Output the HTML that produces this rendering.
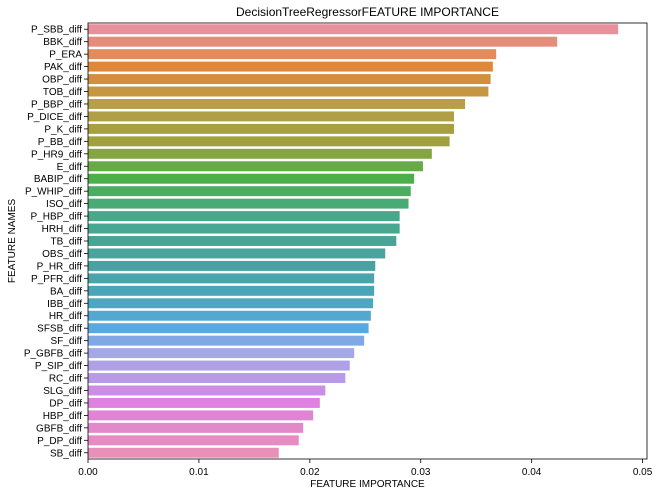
<!DOCTYPE html>
<html><head><meta charset="utf-8"><style>
body{margin:0;background:#fff;}
svg{display:block;font-family:"Liberation Sans",sans-serif;}
</style></head><body>
<svg id="chart" width="659" height="496"></svg>
<script>
const categories=["P_SBB_diff","BBK_diff","P_ERA","PAK_diff","OBP_diff","TOB_diff","P_BBP_diff","P_DICE_diff","P_K_diff","P_BB_diff","P_HR9_diff","E_diff","BABIP_diff","P_WHIP_diff","ISO_diff","P_HBP_diff","HRH_diff","TB_diff","OBS_diff","P_HR_diff","P_PFR_diff","BA_diff","IBB_diff","HR_diff","SFSB_diff","SF_diff","P_GBFB_diff","P_SIP_diff","RC_diff","SLG_diff","DP_diff","HBP_diff","GBFB_diff","P_DP_diff","SB_diff"];
const values=[0.0478,0.0423,0.0368,0.0365,0.0363,0.0361,0.0340,0.0330,0.0330,0.0326,0.0310,0.0302,0.0294,0.0291,0.0289,0.0281,0.0281,0.0278,0.0268,0.0259,0.0258,0.0258,0.0257,0.0255,0.0253,0.0249,0.0240,0.0236,0.0232,0.0214,0.0209,0.0203,0.0194,0.0190,0.0172];
const xTicks=[0,0.01,0.02,0.03,0.04,0.05];
const xTickLabels=["0.00","0.01","0.02","0.03","0.04","0.05"];
const NS="http://www.w3.org/2000/svg";
const svg=document.getElementById('chart');
const L=88,R=647,T=23,B=459;
const xMax=0.0504;
function xs(v){return L+(v/xMax)*(R-L);}
const band=(B-T)/categories.length;
function ys(i){return T+band*(i+0.5);}
function mk(t,a,p){const e=document.createElementNS(NS,t);for(const k in a)e.setAttribute(k,a[k]);(p||svg).appendChild(e);return e;}
const anchors=[[0,[232,144,156]],[3,[224,136,58]],[6,[184,158,72]],[9,[160,160,60]],[12,[76,175,74]],[15,[72,168,138]],[19,[72,162,162]],[22,[74,168,192]],[24,[90,168,224]],[26,[164,168,232]],[28,[184,154,232]],[30,[224,128,224]],[34,[232,144,184]]];
function col(i){for(let k=0;k<anchors.length-1;k++){const[a,ca]=anchors[k],[b,cb]=anchors[k+1];if(i>=a&&i<=b){const t=(i-a)/(b-a);return`rgb(${ca.map((c,j)=>Math.round(c+(cb[j]-c)*t)).join(',')})`;}}return'#888';}
categories.forEach((c,i)=>{
 const r=mk('rect',{x:xs(0),y:ys(i)-band*0.4,width:xs(values[i])-xs(0),height:band*0.8,fill:col(i)});
 
 
 mk('line',{x1:L-4,x2:L,y1:ys(i),y2:ys(i),stroke:'#000','stroke-width':0.8});
 const t=mk('text',{x:L-6,y:ys(i)+3.5,'text-anchor':'end','font-size':10,fill:'#000'});t.textContent=c;
 
 
});
xTicks.forEach((v,i)=>{
 mk('line',{x1:xs(v),x2:xs(v),y1:B,y2:B+4,stroke:'#000','stroke-width':0.8});
 const t=mk('text',{x:xs(v),y:B+16,'text-anchor':'middle','font-size':10,fill:'#000'});t.textContent=xTickLabels[i];
 
 
});
const fr=mk('rect',{x:L,y:T,width:R-L,height:B-T,fill:'none',stroke:'#000','stroke-width':0.8});


const tt=mk('text',{x:(L+R)/2,y:16,'text-anchor':'middle','font-size':12});tt.textContent='DecisionTreeRegressorFEATURE IMPORTANCE';


const xl=mk('text',{x:(L+R)/2,y:487,'text-anchor':'middle','font-size':10});xl.textContent='FEATURE IMPORTANCE';


const yl=mk('text',{x:0,y:0,'text-anchor':'middle','font-size':10,transform:`translate(15,${(T+B)/2}) rotate(-90)`});yl.textContent='FEATURE NAMES';


</script>
</body></html>
